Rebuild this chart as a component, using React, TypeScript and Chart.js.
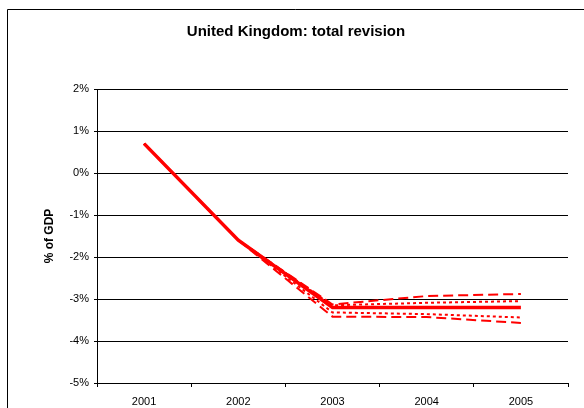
import React, { useEffect, useRef } from "react";
import { Chart, registerables } from "chart.js";

Chart.register(...registerables);

const categories = ["2001", "2002", "2003", "2004", "2005"];
const central = [0.7, -1.6, -3.2, -3.2, -3.2];
const upperDotted = [0.7, -1.6, -3.15, -3.09, -3.05];
const lowerDotted = [0.7, -1.6, -3.32, -3.36, -3.44];
const upperDashed = [0.7, -1.6, -3.13, -2.93, -2.88];
const lowerDashed = [0.7, -1.6, -3.42, -3.43, -3.57];
const yMin = -5;
const yMax = 2;

const borderPlugin = {
  id: "outerBorder",
  afterDraw(chart: any) {
    const ctx = chart.ctx;
    ctx.save();
    ctx.strokeStyle = "#000";
    ctx.lineWidth = 1;
    ctx.setLineDash([]);
    ctx.beginPath();
    ctx.moveTo(7.5, 408);
    ctx.lineTo(7.5, 9.5);
    ctx.lineTo(584, 9.5);
    ctx.stroke();
    ctx.restore();
  },
};

export default function App() {
  const ref = useRef<HTMLCanvasElement | null>(null);
  useEffect(() => {
    if (!ref.current) return;
    const family = "Arial, 'Liberation Sans', sans-serif";
    const font = { family, size: 11 };
    const red = "#FF0000";
    const mk = (data: number[], width: number, dash: number[]) => ({
      data,
      borderColor: red,
      backgroundColor: red,
      borderWidth: width,
      borderDash: dash,
      pointRadius: 0,
      fill: false,
      tension: 0,
    });
    const chart = new Chart(ref.current, {
      type: "line",
      data: {
        labels: categories,
        datasets: [
          mk(upperDashed, 2, [10, 5]),
          mk(lowerDashed, 2, [10, 5]),
          mk(upperDotted, 2, [3, 3]),
          mk(lowerDotted, 2, [3, 3]),
          mk(central, 3.5, []),
        ],
      },
      options: {
        animation: false,
        responsive: false,
        layout: { padding: { left: 24, right: 16, top: 0, bottom: 0 } },
        plugins: {
          legend: { display: false },
          tooltip: { enabled: false },
          title: {
            display: true,
            text: "United Kingdom: total revision",
            color: "#000",
            font: { family, size: 15, weight: "bold" },
            padding: { top: 23, bottom: 48 },
          },
        },
        scales: {
          x: {
            offset: true,
            grid: {
              offset: true,
              drawOnChartArea: false,
              drawTicks: true,
              tickLength: 4,
              color: "#000",
            },
            border: { color: "#000", width: 1 },
            ticks: { color: "#000", font, padding: 8, maxRotation: 0 },
            afterFit: (s: any) => {
              s.height = 25;
            },
          },
          y: {
            min: yMin,
            max: yMax,
            grid: { color: "#000", tickLength: 3, lineWidth: 1 },
            border: { color: "#000", width: 1 },
            ticks: {
              stepSize: 1,
              color: "#000",
              font,
              padding: 5,
              callback: (v: any) => `${v}%`,
            },
            title: {
              display: true,
              text: "% of GDP",
              color: "#000",
              font: { family, size: 12, weight: "bold" },
              padding: { top: 18, bottom: 0 },
            },
            afterFit: (s: any) => {
              s.width = 73;
            },
          },
        },
      },
      plugins: [borderPlugin],
    });
    return () => chart.destroy();
  }, []);
  return (
    <div style={{ position: "fixed", left: 0, top: 0, width: 584, height: 408, background: "#fff" }}>
      <canvas ref={ref} width={584} height={408} style={{ display: "block", width: 584, height: 408 }} />
    </div>
  );
}
